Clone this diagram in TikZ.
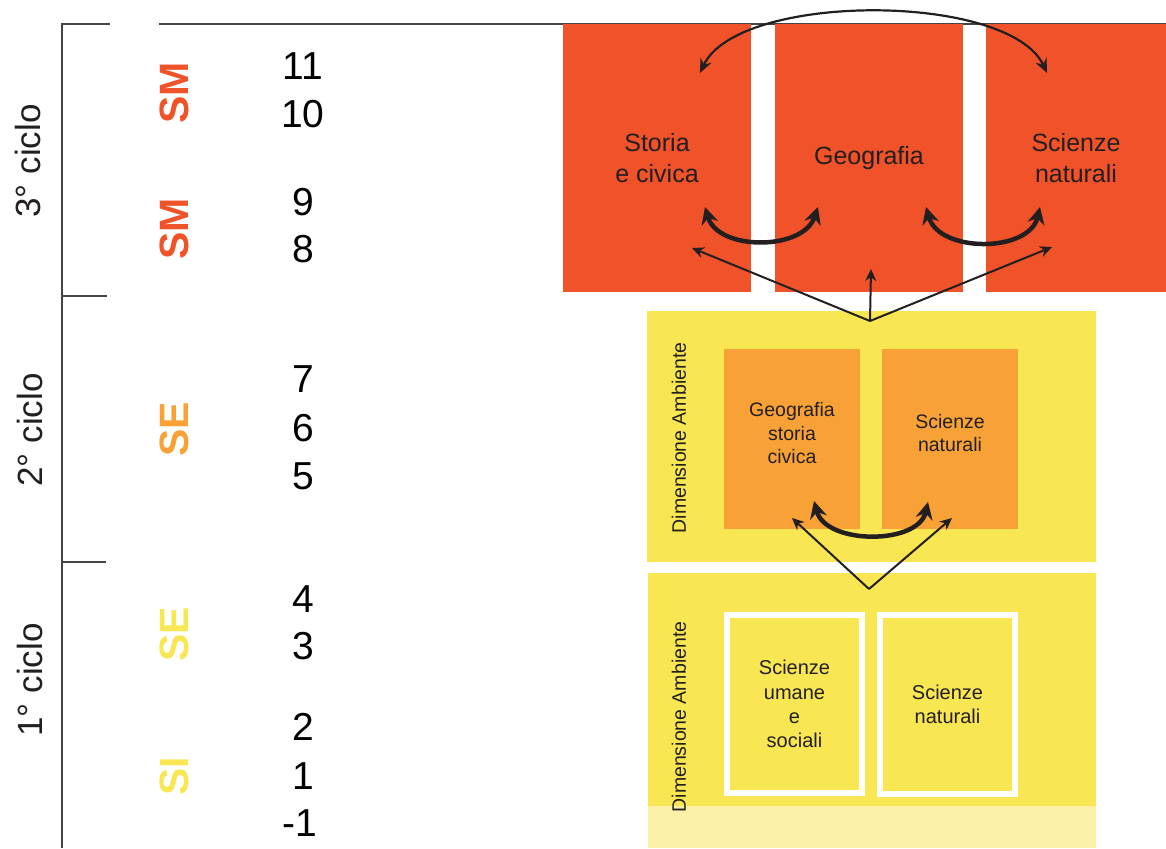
\documentclass[tikz,border=0pt]{standalone}
\usepackage{fontspec}
\setmainfont{Liberation Sans}
\usetikzlibrary{
	arrows.meta		% Stealth arrow tips
	, calc			% Coordinate arithmetic
}
\definecolor{cyclered}{RGB}{240,82,42}
\definecolor{cycleorange}{RGB}{248,161,54}
\definecolor{cycleyellow}{RGB}{248,230,83}
\definecolor{paleyellow}{RGB}{250,240,168}
\definecolor{inkdark}{RGB}{35,31,32}
\definecolor{rulegray}{RGB}{68,68,68}

\begin{document}
\begin{tikzpicture}[
		x=1pt, y=-1pt
		, rule/.style={draw=rulegray, line width=1.5pt}
		, cyclelabel/.style={rotate=90, text=inkdark, font=\fontsize{35}{40}\selectfont}
		, schoollabel/.style={rotate=90, font=\fontsize{41}{46}\selectfont\bfseries}
		, yearlabel/.style={text=black, font=\fontsize{39}{44}\selectfont}
		, area/.style={rectangle, inner sep=0pt, outer sep=0pt, anchor=north west}
		, subjectbox/.style={area, align=center, text=inkdark}
		, ambient/.style={rotate=90, text=inkdark, font=\fontsize{19.5}{22}\selectfont}
		, basearrow/.style={draw=inkdark, >={Stealth[length=12pt, width=11pt]}}
		, thinlink/.style={basearrow, ->, line width=2pt}
		, swaplink/.style={basearrow, <->, line width=4.5pt, >={Stealth[length=17pt, width=17pt]}}
		, looplink/.style={basearrow, <->, line width=2.2pt, >={Stealth[length=14pt, width=12pt]}}]

		\useasboundingbox (0,0) rectangle (1166,848);

		%%% Left scale
		%% Brackets
		\draw[rule] (110,24) -- (62,24) -- (62,848);
		\draw[rule] (62,296) -- (107,296);
		\draw[rule] (62,562) -- (106,562);
		\draw[rule] (159,24) -- (1166,24);

		%% Cycles
		\node[cyclelabel] (ciclo3) at (28,161) {3° ciclo};
		\node[cyclelabel] (ciclo2) at (30,430) {2° ciclo};
		\node[cyclelabel] (ciclo1) at (30,680) {1° ciclo};

		%% Schools
		\node[schoollabel, text=cyclered] (smupper) at (174,93) {SM};
		\node[schoollabel, text=cyclered] (smlower) at (174,229) {SM};
		\node[schoollabel, text=cycleorange] (seupper) at (174,429) {SE};
		\node[schoollabel, text=cycleyellow] (selower) at (174,634) {SE};
		\node[schoollabel, text=cycleyellow] (si) at (174,776) {SI};

		%% Years
		\foreach [count=\i] \ypos/\year in {66/11, 114/10, 202/9, 249/8, 379/7, 428/6, 476/5, 599/4, 646/3, 727/2, 776/1} {
			\node[yearlabel] (year\i) at (303,\ypos) {\year};
		};
		\node[yearlabel] (year0) at (300,823) {-1};

		%%% 3° ciclo: separate subjects
		\begin{scope}[every node/.append style={font=\fontsize{25}{31}\selectfont}]
			\node[subjectbox, fill=cyclered, minimum width=188pt, minimum height=268pt] (storia) at (563,24) {Storia\\e civica};
			\node[subjectbox, fill=cyclered, minimum width=188pt, minimum height=268pt] (geografia) at (775,24) {Geografia};
			\node[subjectbox, fill=cyclered, minimum width=180pt, minimum height=268pt] (scienze) at (986,24) {Scienze\\naturali};
		\end{scope}

		%%% 2° ciclo: Dimensione Ambiente
		\node[area, fill=cycleyellow, minimum width=449pt, minimum height=251pt] (ambiente2) at (647,311) {};
		\node[ambient] (ambiente2label) at (679,438) {Dimensione Ambiente};
		\begin{scope}[every node/.append style={font=\fontsize{19.5}{23.5}\selectfont}]
			\node[subjectbox, fill=cycleorange, minimum width=136pt, minimum height=180pt] (geostoria) at (724,349) {Geografia\\storia\\civica\\[-11.5pt]};
			\node[subjectbox, fill=cycleorange, minimum width=136pt, minimum height=180pt] (scienze2) at (882,349) {Scienze\\naturali\\[-11.5pt]};
		\end{scope}

		%%% 1° ciclo: Dimensione Ambiente
		\node[area, fill=cycleyellow, minimum width=448pt, minimum height=233pt] (ambiente1) at (648,573) {};
		\node[area, fill=paleyellow, minimum width=448pt, minimum height=42pt] (ambiente0) at (648,806) {};
		\node[ambient] (ambiente1label) at (679,717) {Dimensione Ambiente};
		\begin{scope}[every node/.append style={font=\fontsize{20}{24.3}\selectfont}]
			\node[subjectbox, draw=white, line width=6pt, minimum width=135pt, minimum height=178pt] (umane) at (727,615) {Scienze\\umane\\e\\sociali};
			\node[subjectbox, draw=white, line width=6pt, minimum width=135pt, minimum height=179pt] (scienze1) at (880,615) {Scienze\\naturali};
		\end{scope}

		%%% Links
		%% Hubs and arrow ends
		\coordinate (hubsm) at (870,321);
		\coordinate (hubse) at (869,589);
		\coordinate (storiaend) at (692,248);
		\coordinate (geografiaend) at (871,269);
		\coordinate (scienzeend) at (1052,247);
		\coordinate (geostoriaend) at (792,518);
		\coordinate (scienze2end) at (952,518);

		%% From the lower cycle upwards
		\draw[thinlink] (hubsm) -- (storiaend);
		\draw[thinlink] (hubsm) -- (geografiaend);
		\draw[thinlink] (hubsm) -- (scienzeend);
		\draw[thinlink] (hubse) -- (geostoriaend);
		\draw[thinlink] (hubse) -- (scienze2end);

		%% Exchanges between subjects
		\draw[swaplink] ($(storia.north west)+(142,183)$) .. controls ($(storia.north west)+(155,227)$) and ($(geografia.north west)+(28,227)$) .. ($(geografia.north west)+(43,183)$);
		\draw[swaplink] ($(geografia.north west)+(151,183)$) .. controls ($(geografia.north west)+(164,229)$) and ($(scienze.north west)+(43,229)$) .. ($(scienze.north west)+(54,183)$);
		\draw[swaplink] ($(geostoria.north west)+(90,152)$) .. controls ($(geostoria.north west)+(102,196)$) and ($(scienze2.north west)+(36,196)$) .. ($(scienze2.north west)+(46,153)$);
		\draw[looplink] ($(storia.north west)+(137,49)$) .. controls ($(storia.north west)+(175,-32)$) and ($(scienze.north west)+(23,-32)$) .. ($(scienze.north west)+(61,49)$);
\end{tikzpicture}
\end{document}
